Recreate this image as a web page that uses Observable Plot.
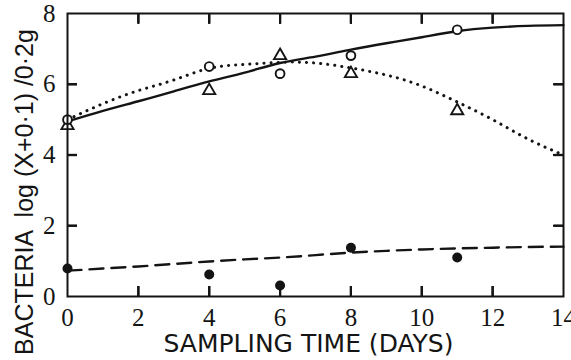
<!DOCTYPE html>
<html>
<head>
<meta charset="utf-8">
<script src="https://cdn.jsdelivr.net/npm/d3@7"></script>
<script src="https://cdn.jsdelivr.net/npm/@observablehq/plot@0.6"></script>
<style>
  html, body { margin: 0; padding: 0; background: #fff; }
</style>
</head>
<body>
<div id="chart"></div>
<script>
// Observed points
const sampleDays = [0, 4, 6, 8, 11];
const openCircles = [5.0, 6.5, 6.3, 6.81, 7.54];
const triangles = [4.83, 5.82, 6.81, 6.3, 5.25];
const filledCircles = [0.79, 0.62, 0.31, 1.38, 1.1];

// Fitted curves
const curveDays = [0, 1, 2, 3, 4, 5, 6, 7, 8, 9, 10, 11, 12, 13, 14];
const solidCurve = [4.95, 5.25, 5.52, 5.8, 6.08, 6.33, 6.6, 6.78, 6.98, 7.16, 7.33, 7.5, 7.6, 7.65, 7.67];
const dottedCurve = [5.0, 5.45, 5.82, 6.12, 6.45, 6.56, 6.62, 6.6, 6.46, 6.26, 5.95, 5.5, 5.0, 4.45, 4.0];
const dashedCurve = [0.73, 0.79, 0.85, 0.92, 0.99, 1.05, 1.1, 1.17, 1.24, 1.29, 1.33, 1.36, 1.38, 1.4, 1.41];

// Axes
const xTicks = [0, 2, 4, 6, 8, 10, 12, 14];
const yTicks = [0, 2, 4, 6, 8];
const xInnerTicks = [2, 4, 6, 8, 10, 12];
const yInnerTicks = [2, 4, 6];
const xTitle = "SAMPLING TIME (DAYS)";
const yTitle = "BACTERIA  log (X+0·1) /0·2g";

const W = 571, H = 360;
const mL = 67, mR = 8, mT = 13, mB = 64;
const pw = W - mL - mR, ph = H - mT - mB;
const tickLen = 10;
const ink = "#141414";
const digitFont = "Liberation Sans Narrow";
const titleFont = "DejaVu Sans";
const yTitleFont = "Liberation Sans";
const fs = 25;

const pts = (xs, ys) => xs.map((x, i) => ({x, y: ys[i]}));
const blank = () => "";

const chart = Plot.plot({
  width: W,
  height: H,
  marginLeft: mL,
  marginRight: mR,
  marginTop: mT,
  marginBottom: mB,
  x: {domain: [0, 14], axis: null},
  y: {domain: [0, 8], axis: null},
  style: {fontFamily: digitFont, background: "#fff", color: ink},
  marks: [
    // tick labels
    Plot.text(xTicks, {x: d => d, text: d => String(d), frameAnchor: "bottom", lineAnchor: "bottom", dy: 29, fontSize: fs, fontFamily: digitFont, fill: ink}),
    Plot.text(yTicks, {y: d => d, text: d => String(d), frameAnchor: "left", textAnchor: "end", lineAnchor: "middle", dx: -12, fontSize: fs, fontFamily: digitFont, fill: ink}),
    // axis titles
    Plot.text([xTitle], {text: d => d, frameAnchor: "bottom", lineAnchor: "bottom", dy: 55, dx: -7, fontSize: fs, fontFamily: titleFont, fill: ink}),
    Plot.text([yTitle], {text: d => d, frameAnchor: "left", rotate: -90, lineAnchor: "bottom", textAnchor: "middle", dx: -35, dy: 37, fontSize: fs, fontFamily: yTitleFont, fill: ink}),
    // curves
    Plot.line(pts(curveDays, solidCurve), {x: "x", y: "y", curve: "natural", stroke: ink, strokeWidth: 2.4}),
    Plot.line(pts(curveDays, dottedCurve), {x: "x", y: "y", curve: "natural", stroke: ink, strokeWidth: 3, strokeDasharray: "0.1 7", strokeLinecap: "round"}),
    Plot.line(pts(curveDays, dashedCurve), {x: "x", y: "y", curve: "natural", stroke: ink, strokeWidth: 2.4, strokeDasharray: "14 8"}),
    // points
    Plot.dot(pts(sampleDays, filledCircles), {x: "x", y: "y", r: 5, fill: ink, stroke: "none"}),
    Plot.dot(pts(sampleDays, triangles), {x: "x", y: "y", symbol: "triangle", r: 4.5, fill: "#fff", stroke: ink, strokeWidth: 1.9}),
    Plot.dot(pts(sampleDays, openCircles), {x: "x", y: "y", r: 4.4, fill: "#fff", stroke: ink, strokeWidth: 1.9}),
    // inward ticks on all four sides
    Plot.tickX(xInnerTicks, {x: d => d, stroke: ink, strokeWidth: 2.2, insetTop: ph - tickLen}),
    Plot.tickX(xInnerTicks, {x: d => d, stroke: ink, strokeWidth: 2.2, insetBottom: ph - tickLen}),
    Plot.tickY(yInnerTicks, {y: d => d, stroke: ink, strokeWidth: 2.2, insetRight: pw - tickLen}),
    Plot.tickY(yInnerTicks, {y: d => d, stroke: ink, strokeWidth: 2.2, insetLeft: pw - tickLen}),
    Plot.axisX(xInnerTicks, {anchor: "bottom", tickSize: -tickLen, tickFormat: blank, label: null, stroke: ink, strokeWidth: 2.2}),
    Plot.axisX(xInnerTicks, {anchor: "top", tickSize: -tickLen, tickFormat: blank, label: null, stroke: ink, strokeWidth: 2.2}),
    Plot.axisY(yInnerTicks, {anchor: "left", tickSize: -tickLen, tickFormat: blank, label: null, stroke: ink, strokeWidth: 2.2}),
    Plot.axisY(yInnerTicks, {anchor: "right", tickSize: -tickLen, tickFormat: blank, label: null, stroke: ink, strokeWidth: 2.2}),
    // frame
    Plot.frame({stroke: ink, strokeWidth: 2})
  ]
});
document.getElementById("chart").appendChild(chart);
</script>
</body>
</html>
